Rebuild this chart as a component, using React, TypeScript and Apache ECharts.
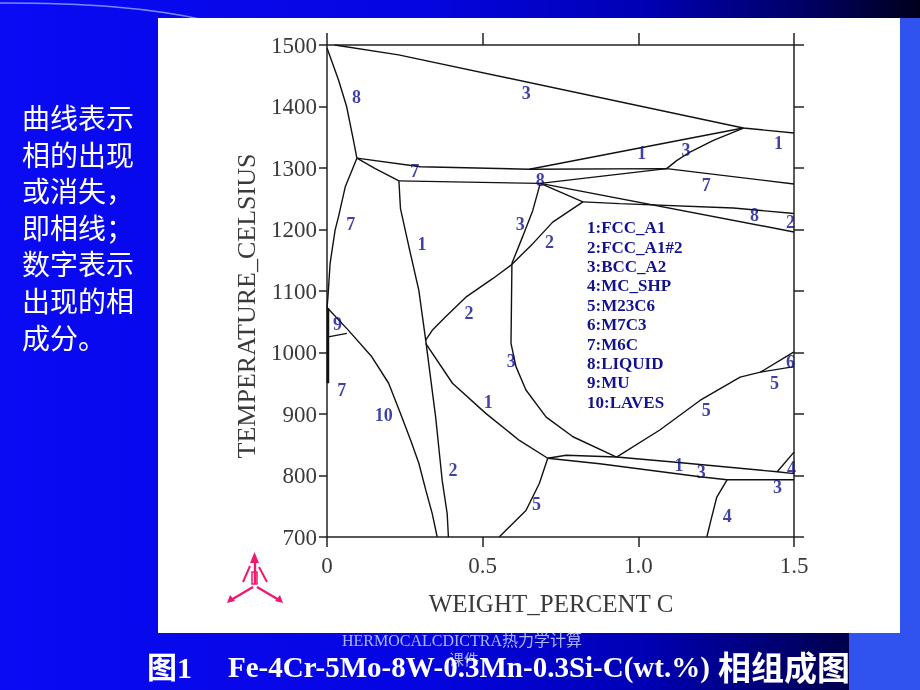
import React, { useEffect, useRef } from "react";
import * as echarts from "echarts";

// ---- axis ticks ----
const xTickValues = [0, 0.5, 1.0, 1.5];
const xTickLabels = ["0", "0.5", "1.0", "1.5"];
const yTickValues = [700, 800, 900, 1000, 1100, 1200, 1300, 1400, 1500];

// ---- phase boundary lines: [wt% C, temperature °C] ----
const liquidTop3 = [[0.025, 1500], [0.23, 1484], [1.337, 1365], [1.5, 1357]];
const liquid8Left = [[0, 1495], [0.037, 1443], [0.063, 1400], [0.085, 1345], [0.096, 1316]];
const m6cUpper = [[0.096, 1316], [0.3, 1302], [0.65, 1298], [1.091, 1299], [1.5, 1274]];
const fcc1Top = [[0.65, 1298], [1.337, 1365]];
const bcc3Top = [[1.091, 1299], [1.123, 1312], [1.166, 1326], [1.241, 1345], [1.338, 1365]];
const m6cLeft = [[0.096, 1316], [0.059, 1270], [0.037, 1221], [0.026, 1199], [0.01, 1145], [0.003, 1090], [0, 1072]];
const m6cLower = [[0.096, 1316], [0.155, 1299], [0.231, 1279]];
const solidus = [[0.231, 1279], [0.45, 1277], [0.685, 1275]];
const liquid8Rise = [[0.685, 1275], [1.091, 1299]];
const bcc3Mid = [[0.685, 1275], [0.661, 1231], [0.628, 1188], [0.594, 1145]];
const fcc2Mid = [[0.317, 1020], [0.338, 1036], [0.381, 1058], [0.446, 1090], [0.532, 1120], [0.591, 1142], [0.661, 1177], [0.725, 1212], [0.822, 1245]];
const liquid8Drop = [[0.685, 1275], [0.822, 1245]];
const fcc2Right = [[0.822, 1245], [0.94, 1242], [1.305, 1235], [1.5, 1226]];
const liquid8LowRight = [[0.685, 1275], [1.5, 1196]];
const fcc1Vertical = [[0.231, 1279], [0.236, 1234], [0.263, 1172], [0.295, 1101], [0.317, 1020], [0.328, 977], [0.349, 895], [0.36, 841], [0.37, 792], [0.386, 738], [0.39, 700]];
const bcc3Vertical = [[0.594, 1145], [0.591, 1015], [0.607, 977], [0.639, 939], [0.704, 895], [0.79, 863], [0.93, 830]];
const fcc1Curve = [[0.317, 1015], [0.403, 950], [0.51, 901], [0.618, 857], [0.709, 828]];
const m23c6Low = [[0.553, 700], [0.639, 743], [0.682, 787], [0.709, 828]];
const lowUpper = [[0.709, 828], [0.768, 833], [0.93, 830], [1.112, 822], [1.446, 806], [1.5, 803]];
const lowLower = [[0.709, 828], [0.876, 819], [1.198, 798], [1.285, 793], [1.5, 793]];
const mc4Short = [[1.446, 806], [1.5, 838]];
const mc4Vertical = [[1.285, 793], [1.252, 765], [1.236, 733], [1.22, 700]];
const m23c6Rise = [[0.93, 830], [1.069, 874], [1.198, 922], [1.327, 960], [1.392, 968], [1.5, 1001]];
const m7c3Line = [[1.392, 968], [1.5, 977]];
const laves10 = [[0, 1073], [0.069, 1036], [0.144, 993], [0.198, 950], [0.236, 901], [0.269, 857], [0.295, 820], [0.318, 775], [0.338, 738], [0.354, 700]];
const mu9 = [[0, 1025], [0.064, 1031]];
const leftEdge = [[0.003, 1072], [0.003, 950]];

const boundaryLines = [
  liquidTop3, liquid8Left, m6cUpper, fcc1Top, bcc3Top, m6cLeft, m6cLower, solidus,
  liquid8Rise, bcc3Mid, fcc2Mid, liquid8Drop, fcc2Right, liquid8LowRight, fcc1Vertical,
  bcc3Vertical, fcc1Curve, m23c6Low, lowUpper, lowLower, mc4Short, mc4Vertical,
  m23c6Rise, m7c3Line, laves10, mu9,
];

// ---- phase number labels: [wt% C, temperature, text] ----
const phaseLabels = [
  [0.095, 1415, "8"], [0.64, 1422, "3"], [1.45, 1340, "1"], [1.011, 1324, "1"],
  [1.153, 1329, "3"], [0.282, 1295, "7"], [0.685, 1280, "8"], [1.218, 1272, "7"],
  [0.076, 1209, "7"], [0.621, 1209, "3"], [0.715, 1180, "2"], [1.373, 1223, "8"],
  [1.489, 1212, "2"], [0.305, 1176, "1"], [0.456, 1064, "2"], [0.034, 1046, "9"],
  [0.592, 986, "3"], [0.047, 939, "7"], [0.518, 919, "1"], [0.182, 898, "10"],
  [1.218, 906, "5"], [1.437, 950, "5"], [1.489, 984, "6"], [0.405, 809, "2"],
  [1.131, 817, "1"], [1.202, 805, "3"], [1.492, 813, "4"], [1.447, 782, "3"],
  [0.673, 753, "5"], [1.286, 734, "4"],
];

const phaseLegend = [
  "1:FCC_A1", "2:FCC_A1#2", "3:BCC_A2", "4:MC_SHP", "5:M23C6",
  "6:M7C3", "7:M6C", "8:LIQUID", "9:MU", "10:LAVES",
];

const sideNotes = ["曲线表示", "相的出现", "或消失，", "即相线；", "数字表示", "出现的相", "成分。"];

const captionPrefix = "图1";
const captionFormula = "Fe-4Cr-5Mo-8W-0.3Mn-0.3Si-C(wt.%)";
const captionSuffix = "相组成图";
const watermark1 = "HERMOCALCDICTRA热力学计算";
const watermark2 = "课件";

const SERIF = "'Liberation Serif', 'Times New Roman', serif";
const CJK = "'Noto Sans CJK SC', sans-serif";
const AXIS_GRAY = "#3a3a3a";
const LABEL_BLUE = "#12128e";
const PINK = "#ee1a72";

function buildOption() {
  const series: any[] = boundaryLines.map((d, i) => ({
    type: "line",
    name: "boundary" + i,
    data: d,
    showSymbol: false,
    symbol: "none",
    silent: true,
    z: 3,
    lineStyle: { color: "#111", width: 1.4 },
  }));
  series.push({
    type: "line",
    name: "leftEdge",
    data: leftEdge,
    showSymbol: false,
    symbol: "none",
    silent: true,
    z: 3,
    lineStyle: { color: "#111", width: 2.6 },
  });
  series.push({
    type: "scatter",
    name: "phaseLabels",
    data: phaseLabels,
    symbolSize: 1,
    silent: true,
    z: 5,
    itemStyle: { color: "rgba(0,0,0,0)" },
    label: {
      show: true,
      position: "inside",
      formatter: (p: any) => p.value[2],
      fontFamily: SERIF,
      fontWeight: "bold",
      fontSize: 18,
      color: LABEL_BLUE,
    },
  });

  const pinkLine = (points: number[][], w = 2.4) => ({
    type: "polyline",
    shape: { points },
    style: { stroke: PINK, lineWidth: w, fill: null },
    z: 10,
    silent: true,
  });
  const pinkPoly = (points: number[][]) => ({
    type: "polygon",
    shape: { points },
    style: { fill: PINK },
    z: 10,
    silent: true,
  });

  const elements: any[] = [
    {
      type: "rect",
      shape: { x: 0, y: 0, width: 920, height: 690 },
      style: {
        fill: {
          type: "linear", x: 0, y: 0, x2: 1, y2: 0,
          colorStops: [
            { offset: 0, color: "#0a0af4" },
            { offset: 0.45, color: "#0505e2" },
            { offset: 0.7, color: "#0000b4" },
            { offset: 0.88, color: "#000062" },
            { offset: 1, color: "#00001c" },
          ],
        },
      },
      z: -20,
      silent: true,
    },
    {
      type: "rect",
      shape: { x: 898, y: 18, width: 22, height: 672 },
      style: { fill: "#3052ee" },
      z: -19,
      silent: true,
    },
    {
      type: "rect",
      shape: { x: 849, y: 600, width: 71, height: 90 },
      style: { fill: "#3052ee" },
      z: -19,
      silent: true,
    },
    {
      type: "bezierCurve",
      shape: { x1: 0, y1: 3, cpx1: 90, cpy1: 3, cpx2: 150, cpy2: 8, x2: 205, y2: 20 },
      style: { stroke: "#7a88ff", lineWidth: 1.5, fill: null },
      z: -18,
      silent: true,
    },
    {
      type: "rect",
      shape: { x: 158, y: 18, width: 742, height: 615 },
      style: { fill: "#ffffff" },
      z: -15,
      silent: true,
    },
    // legend block
    {
      type: "text",
      left: 587,
      top: 218,
      style: {
        text: phaseLegend.join("\n"),
        font: `bold 17px ${SERIF}`,
        fill: LABEL_BLUE,
        lineHeight: 19.4,
      },
      z: 6,
      silent: true,
    },
    // y axis name
    {
      type: "text",
      x: 246,
      y: 306,
      rotation: Math.PI / 2,
      style: {
        text: "TEMPERATURE_CELSIUS",
        font: `26px ${SERIF}`,
        fill: AXIS_GRAY,
        textAlign: "center",
        textVerticalAlign: "middle",
      },
      z: 6,
      silent: true,
    },
    // x axis name
    {
      type: "text",
      x: 551,
      y: 603,
      style: {
        text: "WEIGHT_PERCENT C",
        font: `25px ${SERIF}`,
        fill: AXIS_GRAY,
        textAlign: "center",
        textVerticalAlign: "middle",
      },
      z: 6,
      silent: true,
    },
    // logo
    pinkLine([[255, 584], [255, 559]]),
    pinkPoly([[250, 563], [254.5, 552], [259, 563]]),
    pinkLine([[250, 566], [243, 582]], 2),
    pinkLine([[259, 567], [267, 582]], 2),
    pinkLine([[253, 587], [231, 600]]),
    pinkLine([[257, 587], [279, 600]]),
    pinkPoly([[227, 603], [230, 595], [235, 601]]),
    pinkPoly([[283, 603], [280, 595], [275, 601]]),
    {
      type: "rect",
      shape: { x: 252, y: 572, width: 5, height: 12 },
      style: { stroke: PINK, lineWidth: 1.5, fill: null },
      z: 10,
      silent: true,
    },
    // watermark
    {
      type: "text",
      x: 462,
      y: 640,
      style: {
        text: watermark1,
        font: `16px ${SERIF}, ${CJK}`,
        fill: "rgba(205,212,255,0.85)",
        textAlign: "center",
        textVerticalAlign: "middle",
      },
      z: 8,
      silent: true,
    },
    {
      type: "text",
      x: 464,
      y: 658,
      style: {
        text: watermark2,
        font: `15px ${CJK}`,
        fill: "rgba(205,212,255,0.85)",
        textAlign: "center",
        textVerticalAlign: "middle",
      },
      z: 8,
      silent: true,
    },
    // caption
    {
      type: "text",
      x: 147,
      y: 667,
      style: {
        text: captionPrefix,
        font: `bold 30px ${SERIF}, ${CJK}`,
        fill: "#ffffff",
        textAlign: "left",
        textVerticalAlign: "middle",
      },
      z: 9,
      silent: true,
    },
    {
      type: "text",
      x: 228,
      y: 667,
      style: {
        text: captionFormula,
        font: `bold 29px ${SERIF}`,
        fill: "#ffffff",
        textAlign: "left",
        textVerticalAlign: "middle",
      },
      z: 9,
      silent: true,
    },
    {
      type: "text",
      x: 718,
      y: 666,
      style: {
        text: captionSuffix,
        font: `bold 33px ${CJK}`,
        fill: "#ffffff",
        textAlign: "left",
        textVerticalAlign: "middle",
      },
      z: 9,
      silent: true,
    },
  ];

  sideNotes.forEach((line, i) => {
    elements.push({
      type: "text",
      x: 22,
      y: 117 + i * 36.6,
      style: {
        text: line,
        font: `28px ${CJK}`,
        fill: "#ffffff",
        textAlign: "left",
        textVerticalAlign: "middle",
      },
      z: 9,
      silent: true,
    });
  });

  const axisLineStyle = { color: "#222", width: 1.5 };

  return {
    animation: false,
    backgroundColor: "transparent",
    grid: { left: 327, top: 45, width: 467, height: 492, containLabel: false },
    xAxis: [
      {
        type: "value",
        position: "bottom",
        min: 0,
        max: 1.5,
        interval: 0.5,
        axisLine: { show: true, onZero: false, lineStyle: axisLineStyle },
        axisTick: { show: true, inside: false, length: 10, lineStyle: axisLineStyle },
        axisLabel: {
          show: true,
          margin: 17,
          fontFamily: SERIF,
          fontSize: 23,
          color: AXIS_GRAY,
          formatter: (v: number) => {
            const idx = xTickValues.findIndex((t) => Math.abs(t - v) < 1e-6);
            return idx >= 0 ? xTickLabels[idx] : "";
          },
        },
        splitLine: { show: false },
      },
      {
        type: "value",
        position: "top",
        min: 0,
        max: 1.5,
        interval: 0.5,
        axisLine: { show: true, onZero: false, lineStyle: axisLineStyle },
        axisTick: { show: true, inside: false, length: 12, lineStyle: axisLineStyle },
        axisLabel: { show: false },
        splitLine: { show: false },
      },
    ],
    yAxis: [
      {
        type: "value",
        position: "left",
        min: yTickValues[0],
        max: yTickValues[yTickValues.length - 1],
        interval: 100,
        axisLine: { show: true, onZero: false, lineStyle: axisLineStyle },
        axisTick: { show: true, inside: false, length: 8, lineStyle: axisLineStyle },
        axisLabel: {
          show: true,
          margin: 10,
          fontFamily: SERIF,
          fontSize: 23,
          color: AXIS_GRAY,
          formatter: (v: number) => String(Math.round(v)),
        },
        splitLine: { show: false },
      },
      {
        type: "value",
        position: "right",
        min: yTickValues[0],
        max: yTickValues[yTickValues.length - 1],
        interval: 100,
        axisLine: { show: true, onZero: false, lineStyle: axisLineStyle },
        axisTick: { show: true, inside: false, length: 10, lineStyle: axisLineStyle },
        axisLabel: { show: false },
        splitLine: { show: false },
      },
    ],
    graphic: { elements },
    series,
  };
}

export default function App() {
  const ref = useRef<HTMLDivElement>(null);
  useEffect(() => {
    if (!ref.current) return;
    const chart = echarts.init(ref.current, null, { renderer: "svg" });
    chart.setOption(buildOption() as any);
    return () => chart.dispose();
  }, []);
  return (
    <div
      ref={ref}
      style={{ position: "fixed", left: 0, top: 0, width: 920, height: 690 }}
    />
  );
}
